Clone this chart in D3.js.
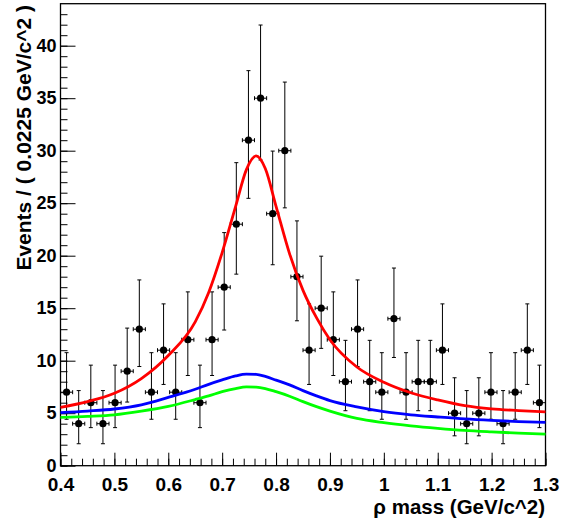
<!DOCTYPE html>
<html>
<head>
<meta charset="utf-8">
<script src="https://cdn.jsdelivr.net/npm/d3@7"></script>
<style>
  html, body { margin: 0; padding: 0; background: #fff; }
  svg { display: block; }
  text { font-family: "Liberation Sans", Arial, Helvetica, sans-serif; font-weight: bold; fill: #000; }
</style>
</head>
<body>
<svg id="chart" width="561" height="521"></svg>
<script>
// ---- data ----
const binCenters = [0.41125,0.43375,0.45625,0.47875,0.50125,0.52375,0.54625,0.56875,0.59125,0.61375,
  0.63625,0.65875,0.68125,0.70375,0.72625,0.74875,0.77125,0.79375,0.81625,0.83875,
  0.86125,0.88375,0.90625,0.92875,0.95125,0.97375,0.99625,1.01875,1.04125,1.06375,
  1.08625,1.10875,1.13125,1.15375,1.17625,1.19875,1.22125,1.24375,1.26625,1.28875];
const binHalfWidth = 0.01125;
const counts = [7,4,6,4,6,9,13,7,11,7,12,6,12,17,23,31,35,24,30,18,11,15,12,8,13,8,7,14,7,8,8,11,5,4,5,7,4,7,11,6];

const curveX   = [0.40,0.45,0.50,0.55,0.60,0.65,0.675,0.70,0.725,0.745,0.763,0.78,0.80,0.825,0.85,0.875,0.90,0.95,1.00,1.05,1.10,1.15,1.20,1.25,1.30];
const totalY   = [5.55,6.1,6.9,8.3,10.5,13.7,16.5,20.3,24.7,28.2,29.5,28.3,24.7,20.2,16.7,14.1,12.0,9.4,7.95,6.95,6.26,5.72,5.41,5.25,5.12];
const blueY    = [5.05,5.2,5.4,5.8,6.5,7.28,7.75,8.17,8.55,8.72,8.7,8.5,8.15,7.7,7.15,6.65,6.2,5.6,5.15,4.85,4.64,4.45,4.31,4.2,4.12];
const greenY   = [4.6,4.7,4.85,5.2,5.65,6.3,6.65,7.05,7.35,7.5,7.48,7.35,7.05,6.62,6.1,5.62,5.2,4.5,4.1,3.8,3.56,3.36,3.22,3.1,3.0];

const xTickValues = [0.4,0.5,0.6,0.7,0.8,0.9,1.0,1.1,1.2,1.3];
const xTickLabels = ["0.4","0.5","0.6","0.7","0.8","0.9","1","1.1","1.2","1.3"];
const yTickValues = [0,5,10,15,20,25,30,35,40];
const yTickLabels = ["0","5","10","15","20","25","30","35","40"];
const xTitle = "\u03C1 mass (GeV/c^2)";
const yTitle = "Events / ( 0.0225 GeV/c^2 )";

// ---- layout ----
const L = 60.5, R = 545.5, T = 3.7, B = 465.7;
const x = d3.scaleLinear().domain([0.4, 1.3]).range([L, R]);
const y = d3.scaleLinear().domain([0, 44]).range([B, T]);
const svg = d3.select("#chart");

// Poisson (Garwood) 68% interval, Wilson-Hilferty approximation of chi2 quantiles
function chi2q(k, z) { const a = 2/(9*k); return k*Math.pow(1 - a + z*Math.sqrt(a), 3); }
function poissonLo(n) { return n === 0 ? 0 : chi2q(2*n, -1)/2; }
function poissonHi(n) { return chi2q(2*n+2, 1)/2; }

// ---- axes ticks (inside, ROOT style) ----
const minorX = d3.range(0, 46).map(i => 0.4 + i*0.02).filter(v => v <= 1.3001);
const minorY = d3.range(0, 44);

const gx = svg.append("g").attr("transform", `translate(0,${B})`);
gx.call(d3.axisBottom(x).tickValues(minorX).tickSize(-7).tickFormat(""));
gx.append("g").call(d3.axisBottom(x).tickValues(xTickValues).tickSize(-13)
   .tickPadding(12).tickFormat((d,i) => xTickLabels[i]));
gx.selectAll(".domain").remove();
gx.selectAll("line").attr("stroke", "#000").attr("stroke-width", 1);
gx.selectAll("text").attr("font-size", 19).attr("font-family", "Liberation Sans, Arial, sans-serif")
  .attr("font-weight", "bold").attr("fill", "#000");

const gy = svg.append("g").attr("transform", `translate(${L},0)`);
gy.call(d3.axisLeft(y).tickValues(minorY).tickSize(-7).tickFormat(""));
gy.append("g").call(d3.axisLeft(y).tickValues(yTickValues).tickSize(-15)
   .tickPadding(4).tickFormat((d,i) => yTickLabels[i]));
gy.selectAll(".domain").remove();
gy.selectAll("line").attr("stroke", "#000").attr("stroke-width", 1);
gy.selectAll("text").attr("font-size", 18).attr("font-family", "Liberation Sans, Arial, sans-serif")
  .attr("font-weight", "bold").attr("fill", "#000").attr("dy", "0.3em");

// frame
svg.append("rect").attr("x", L).attr("y", T).attr("width", R - L).attr("height", B - T)
  .attr("fill", "none").attr("stroke", "#000").attr("stroke-width", 1.3);

// ---- data points with error bars ----
const pts = binCenters.map((c, i) => ({c, n: counts[i], lo: poissonLo(counts[i]), hi: poissonHi(counts[i])}));
const gp = svg.append("g").attr("stroke", "#000").attr("stroke-width", 1);
pts.forEach(p => {
  const cx = x(p.c), cy = y(p.n);
  const x0 = x(p.c - binHalfWidth), x1 = x(p.c + binHalfWidth);
  gp.append("line").attr("x1", cx).attr("x2", cx).attr("y1", y(p.lo)).attr("y2", y(p.hi));
  gp.append("line").attr("x1", cx-2).attr("x2", cx+2).attr("y1", y(p.lo)).attr("y2", y(p.lo));
  gp.append("line").attr("x1", cx-2).attr("x2", cx+2).attr("y1", y(p.hi)).attr("y2", y(p.hi));
  gp.append("line").attr("x1", x0).attr("x2", x1).attr("y1", cy).attr("y2", cy);
  gp.append("line").attr("x1", x0).attr("x2", x0).attr("y1", cy-2).attr("y2", cy+2);
  gp.append("line").attr("x1", x1).attr("x2", x1).attr("y1", cy-2).attr("y2", cy+2);
  gp.append("circle").attr("cx", cx).attr("cy", cy).attr("r", 3.6).attr("fill", "#000").attr("stroke", "none");
});

// ---- curves ----
const line = d3.line().x(d => x(d[0])).y(d => y(d[1])).curve(d3.curveMonotoneX);
[[greenY, "#00ff00"], [blueY, "#0000ff"], [totalY, "#ff0000"]].forEach(([ys, col]) => {
  svg.append("path").datum(curveX.map((v, i) => [v, ys[i]]))
    .attr("d", line).attr("fill", "none").attr("stroke", col).attr("stroke-width", 2.8);
});

// ---- titles ----
svg.append("text").attr("x", 545).attr("y", 514).attr("text-anchor", "end")
  .attr("font-size", 20.5).text(xTitle);
svg.append("text").attr("transform", "translate(31,5) rotate(-90)").attr("text-anchor", "end")
  .attr("font-size", 21).text(yTitle);
</script>
</body>
</html>
